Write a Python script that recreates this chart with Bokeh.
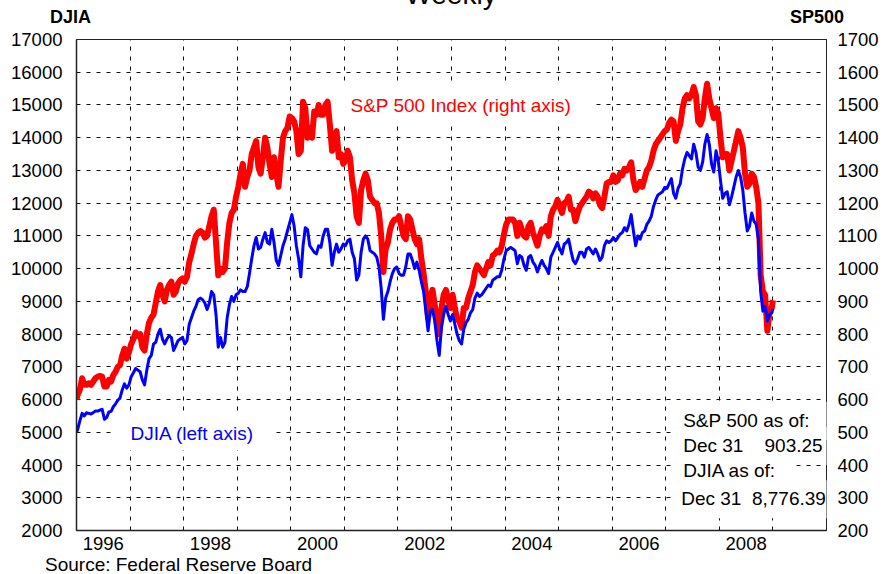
from bokeh.plotting import figure
from bokeh.layouts import column
from bokeh.models import Range1d, LinearAxis, FixedTicker, Label, Div
from bokeh.embed import file_html
from bokeh.resources import INLINE

# ---------------- data ----------------
years = list(range(1996, 2009))
tick_years = ["1996", "1998", "2000", "2002", "2004", "2006", "2008"]

djia_first = 5000.0
sp_first = 600.0
djia_last = 8776.39
sp_last = 903.25

# DJIA, two readings per month (early / late)
djia_1996 = [5080, 5350, 5580, 5500, 5600, 5580, 5560, 5600, 5650, 5650, 5680, 5700,
             5400, 5450, 5620, 5640, 5780, 5870, 5980, 6050, 6300, 6480, 6350, 6450]
djia_1997 = [6700, 6820, 6950, 6900, 6850, 6600, 6450, 6900, 7250, 7350, 7700, 7750,
             8000, 8150, 7850, 7700, 7850, 7950, 7900, 7500, 7650, 7800, 7850, 7900]
djia_1998 = [7700, 7800, 8300, 8500, 8700, 8850, 9050, 9100, 9050, 8950, 8750, 8950,
             9300, 9200, 8600, 7600, 7900, 7600, 7750, 8500, 8900, 9150, 9000, 9200]
djia_1999 = [9250, 9350, 9300, 9300, 9450, 9850, 10300, 10700, 10950, 10600, 10650, 10900,
             11100, 10800, 10750, 11200, 10800, 10250, 10100, 10400, 10700, 10900, 11150, 11400]
djia_2000 = [11650, 11300, 10700, 10300, 9750, 10700, 11250, 11200, 10700, 10600, 10500, 10450,
             10700, 10650, 11000, 11200, 11200, 10800, 10100, 10500, 10750, 10500, 10600, 10750]
djia_2001 = [10700, 10850, 10900, 10500, 10300, 9650, 9800, 10500, 10900, 11000, 10900, 10550,
             10500, 10450, 10350, 10050, 9400, 8450, 9100, 9300, 9600, 9850, 10000, 10050]
djia_2002 = [9850, 9800, 9800, 10050, 10450, 10450, 10250, 10000, 10200, 9950, 9600, 9300,
             8700, 8100, 8700, 8750, 8400, 7800, 7350, 8200, 8600, 8850, 8600, 8400]
djia_2003 = [8600, 8300, 8000, 7800, 7700, 8150, 8350, 8450, 8650, 8750, 9100, 9250,
             9150, 9200, 9300, 9400, 9500, 9450, 9650, 9700, 9750, 9750, 9950, 10300]
djia_2004 = [10550, 10600, 10650, 10600, 10550, 10150, 10400, 10350, 10100, 9950, 10350, 10400,
             10200, 10100, 9900, 10100, 10250, 10100, 10000, 9850, 10350, 10500, 10650, 10800]
djia_2005 = [10600, 10450, 10750, 10800, 10900, 10550, 10250, 10150, 10300, 10500, 10500, 10350,
             10600, 10650, 10550, 10450, 10600, 10450, 10250, 10350, 10700, 10850, 10800, 10850]
djia_2006 = [10950, 10850, 10950, 11050, 11100, 11250, 11150, 11350, 11650, 11150, 10700, 11000,
             10900, 11100, 11150, 11350, 11450, 11600, 11900, 12100, 12250, 12300, 12350, 12480]
djia_2007 = [12450, 12600, 12750, 12300, 12150, 12450, 12600, 13050, 13350, 13550, 13450, 13350,
             13800, 13550, 13100, 13000, 13250, 13800, 14100, 13800, 13200, 12950, 13600, 13300]
djia_2008 = [12700, 12150, 12300, 12350, 11950, 12200, 12500, 12800, 13000, 12800, 12400, 11700,
             11150, 11300, 11700, 11450, 11350, 10900, 9300, 8700, 8850, 8400, 8600, 8650]

# S&P 500, two readings per month (early / late)
sp_1996 = [615, 630, 665, 645, 645, 650, 645, 655, 665, 670, 672, 670,
           640, 640, 660, 655, 675, 685, 700, 705, 735, 755, 725, 745]
sp_1997 = [770, 785, 805, 795, 800, 760, 750, 800, 835, 850, 860, 895,
           930, 950, 920, 900, 935, 950, 960, 920, 930, 955, 965, 970]
sp_1998 = [960, 975, 1020, 1045, 1075, 1100, 1110, 1115, 1110, 1095, 1100, 1130,
           1160, 1180, 1080, 980, 1000, 990, 1000, 1080, 1140, 1170, 1180, 1220]
sp_1999 = [1250, 1290, 1320, 1250, 1280, 1300, 1350, 1370, 1390, 1310, 1290, 1340,
           1400, 1370, 1320, 1280, 1340, 1290, 1250, 1330, 1400, 1420, 1430, 1465]
sp_2000 = [1460, 1450, 1420, 1350, 1360, 1510, 1490, 1400, 1430, 1400, 1480, 1470,
           1500, 1470, 1470, 1500, 1510, 1440, 1360, 1380, 1420, 1340, 1350, 1320]
sp_2001 = [1330, 1360, 1340, 1270, 1230, 1160, 1140, 1240, 1270, 1290, 1270, 1220,
           1210, 1200, 1200, 1170, 1100, 990, 1060, 1080, 1120, 1140, 1150, 1150]
sp_2002 = [1160, 1130, 1100, 1090, 1160, 1150, 1120, 1090, 1075, 1090, 1030, 985,
           930, 850, 910, 935, 890, 830, 800, 880, 920, 935, 905, 880]
sp_2003 = [920, 880, 845, 840, 820, 880, 880, 910, 930, 950, 990, 1010,
           1000, 990, 980, 1000, 1020, 1010, 1040, 1045, 1055, 1050, 1070, 1105]
sp_2004 = [1135, 1150, 1150, 1150, 1140, 1100, 1140, 1120, 1100, 1095, 1130, 1140,
           1110, 1090, 1070, 1100, 1120, 1115, 1130, 1100, 1160, 1180, 1190, 1210]
sp_2005 = [1190, 1170, 1200, 1205, 1220, 1180, 1180, 1145, 1170, 1190, 1200, 1210,
           1220, 1235, 1230, 1215, 1230, 1220, 1195, 1185, 1220, 1260, 1265, 1265]
sp_2006 = [1285, 1265, 1270, 1290, 1285, 1305, 1300, 1310, 1325, 1270, 1240, 1250,
           1265, 1250, 1275, 1300, 1310, 1330, 1360, 1380, 1390, 1400, 1410, 1420]
sp_2007 = [1425, 1445, 1455, 1450, 1390, 1420, 1440, 1490, 1520, 1530, 1520, 1530,
           1555, 1530, 1450, 1440, 1460, 1520, 1565, 1520, 1490, 1460, 1490, 1475]
sp_2008 = [1400, 1340, 1350, 1350, 1300, 1330, 1360, 1390, 1420, 1400, 1370, 1290,
           1250, 1260, 1290, 1280, 1250, 1200, 980, 930, 920, 810, 870, 880]

djia_by_year = [djia_1996, djia_1997, djia_1998, djia_1999, djia_2000, djia_2001, djia_2002,
                djia_2003, djia_2004, djia_2005, djia_2006, djia_2007, djia_2008]
sp_by_year = [sp_1996, sp_1997, sp_1998, sp_1999, sp_2000, sp_2001, sp_2002,
              sp_2003, sp_2004, sp_2005, sp_2006, sp_2007, sp_2008]

# ---------------- assemble series ----------------
xs = [float(years[0])]
djia = [djia_first]
sp = [sp_first]
for yr, dvals, svals in zip(years, djia_by_year, sp_by_year):
    for i in range(24):
        xs.append(yr + (i + 0.5) / 24.0)
        djia.append(dvals[i])
        sp.append(svals[i])
xs.append(float(years[-1] + 1))
djia.append(djia_last)
sp.append(sp_last)

FONT = "Liberation Sans"
TICK_SIZE = "18.5px"
ASC = 0.905   # font ascent (em)
LH1 = 0.8465  # baseline offset inside a line box of line-height 1 (em)
NBSP = "\u00a0"

W = 884
HEADER_H = 26
FOOTER_H = 16
MAIN_H = 574 - HEADER_H - FOOTER_H
FOOTER_TOP = 574 - FOOTER_H


def span(text, left, baseline, size, y0=0, bold=False, extra=""):
    top = baseline - LH1 * size - y0
    weight = "bold" if bold else "normal"
    return ('<span style="position:absolute;left:%gpx;top:%.1fpx;font-size:%gpx;'
            'font-weight:%s;line-height:1;white-space:nowrap;%s">%s</span>'
            % (left, top, size, weight, extra, text))


def strip_div(inner, height):
    html = ('<div style="position:relative;width:%dpx;height:%dpx;'
            "font-family:'Liberation Sans';color:black;\">%s</div>" % (W, height, inner))
    return Div(text=html, width=W, height=height, margin=(0, 0, 0, 0))


# ---------------- header strip (texts above the plot box) ----------------
header = strip_div(
    span("Weekly", 0, 4.5, 28, extra="width:902px;text-align:center;")
    + span("DJIA", 50, 23, 18, bold=True)
    + span("SP500", 790, 23, 18, bold=True),
    HEADER_H)

# ---------------- main chart ----------------
p = figure(width=W, height=MAIN_H,
           x_range=Range1d(1996, 2010), y_range=Range1d(2000, 17000),
           output_backend="svg", toolbar_location=None,
           min_border_left=76, min_border_right=58,
           min_border_top=39 - HEADER_H, min_border_bottom=HEADER_H + MAIN_H - 530,
           background_fill_color="white", border_fill_color="white",
           outline_line_color="#222222", outline_line_width=1)

p.extra_y_ranges = {"sp": Range1d(200, 1700)}

label_pos = [int(t) + 0.5 for t in tick_years]
xa = p.xaxis[0]
xa.ticker = FixedTicker(ticks=label_pos)
xa.major_label_overrides = {pos: t for pos, t in zip(label_pos, tick_years)}
xa.major_tick_in = 0
xa.major_tick_out = 0
xa.minor_tick_line_color = None
xa.major_label_standoff = 6
xa.axis_line_color = "#222222"
xa.axis_line_width = 1.5

ya = p.yaxis[0]
ya.ticker = FixedTicker(ticks=list(range(2000, 17001, 1000)))
ya.major_tick_in = 0
ya.major_tick_out = 0
ya.minor_tick_line_color = None
ya.major_label_standoff = 14
ya.axis_line_color = "#222222"
ya.axis_line_width = 1.5

ra = LinearAxis(y_range_name="sp", ticker=FixedTicker(ticks=list(range(200, 1701, 100))))
ra.major_tick_in = 0
ra.major_tick_out = 0
ra.minor_tick_line_color = None
ra.major_label_standoff = 11
ra.axis_line_color = "#222222"
ra.axis_line_width = 1
p.add_layout(ra, "right")

for ax in (xa, ya, ra):
    ax.major_label_text_font = FONT
    ax.major_label_text_font_size = TICK_SIZE
    ax.major_label_text_color = "black"

p.xgrid.ticker = FixedTicker(ticks=[y + 1 for y in years])
p.ygrid.ticker = FixedTicker(ticks=list(range(3000, 17000, 1000)))
for g in (p.xgrid[0], p.ygrid[0]):
    g.grid_line_color = "#111111"
    g.grid_line_dash = "4 6"
    g.grid_line_width = 1

p.line(xs, sp, y_range_name="sp", line_color="#ff0000", line_width=6, line_join="round")
p.line(xs, djia, line_color="#0000ff", line_width=3, line_join="round")


# page pixel -> data coordinates of the main chart (frame 76..826 x, 39..530 y)
def dx(px):
    return 1996 + (px - 76) * 14.0 / 750.0


def dy(py):
    return 2000 + (530 - py) * 15000.0 / 491.0


def chart_text(text, px, baseline, pad, color="black", size=19):
    """px: left of the text itself, baseline: alphabetic baseline (page pixels)."""
    top = baseline - ASC * size - pad["top"]
    p.add_layout(Label(x=dx(px - pad["left"]), y=dy(top), text=text, text_font=FONT,
                       text_font_size="%gpx" % size, text_color=color,
                       text_align="left", text_baseline="top",
                       background_fill_color="white", padding=pad))


chart_text("S&P 500 Index (right axis)", 350, 111.7,
           dict(left=17, right=21, top=9, bottom=7), color="#ff0000")
chart_text("DJIA (left axis)", 130, 440,
           dict(left=15, right=20, top=9, bottom=6), color="#0000ff")

chart_text("S&P 500 as of:", 682.7, 426.7, dict(left=10, right=19, top=8, bottom=9))
chart_text("Dec 31" + NBSP * 4 + "903.25", 682.7, 451.7,
           dict(left=10, right=12, top=8, bottom=9))
chart_text("DJIA as of:", 682.7, 476.7, dict(left=10, right=16, top=8, bottom=9))
chart_text("Dec 31" + NBSP * 2 + "8,776.39", 680.7, 505,
           dict(left=8, right=10, top=8, bottom=9))

# ---------------- footer strip (source line) ----------------
footer = strip_div(span("Source: Federal Reserve Board", 45, 571.5, 19, y0=FOOTER_TOP),
                   FOOTER_H)

layout = column(header, p, footer, spacing=0)

open("out.html", "w").write(file_html(layout, INLINE))
